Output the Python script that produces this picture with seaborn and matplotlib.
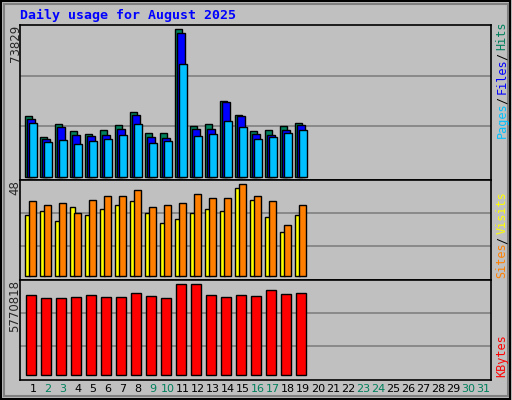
import matplotlib
matplotlib.use("Agg")
import matplotlib.pyplot as plt
import seaborn as sns
import numpy as np

sns.set_style("white")
plt.rcParams['font.family'] = ['DejaVu Sans Mono', 'DejaVu Sans']

days = list(range(1, 20))
hits = [30300,20000,26300,22800,21300,23300,25800,32300,21800,21800,73829,25300,26300,37800,30800,22800,23300,25300,26800]
files = [28800,18800,24800,20800,20300,20800,23800,30800,19800,19300,71800,23800,23800,37300,30300,21300,20800,23300,25800]
pages = [26800,17300,18300,16300,17800,18800,20800,26300,16800,17800,56300,20300,21300,27800,24800,18800,19800,21800,23300]
visits = [32,34,29,36,32,35,37,39,33,28,30,33,35,34,46,40,31,23,32]
sites = [39,37,38,33,40,42,42,45,36,37,38,43,41,41,48,42,39,27,37]
kbytes = [5073000,4883000,4883000,4946000,5073000,4946000,4946000,5200000,5010000,4883000,5770818,5770818,5073000,4946000,5073000,5010000,5390000,5137000,5200000]
all_days = list(range(1, 32))
weekend = [2,3,9,10,16,17,23,24,30,31]

W, H = 512, 400
fig = plt.figure(figsize=(W/100, H/100), dpi=100, facecolor='#C0C0C0')

def px_axes(x0, y0, x1, y1):
    ax = fig.add_axes([x0/W, 1 - y1/H, (x1-x0)/W, (y1-y0)/H])
    ax.set_facecolor('#C0C0C0')
    ax.set_xlim((20-18)/15, (491-18)/15)
    ax.set_xticks([]); ax.set_yticks([])
    for s in ax.spines.values():
        s.set_color('black'); s.set_linewidth(1.2)
    return ax

d = np.array(days, dtype=float)
ek = dict(edgecolor='black', linewidth=1, align='edge')

ax1 = px_axes(20, 25, 491, 180)
ax1.set_ylim(-1500, 76000)
for g in (25500, 50500):
    ax1.axhline(g, color='#808080', lw=1.2, zorder=0)
ax1.bar(d-0.51, hits, 0.47, color='#00805C', **ek)
ax1.bar(d-0.38, files, 0.53, color='#0000FF', **ek)
ax1.bar(d-0.25, pages, 0.49, color='#00C0FF', **ek)

ax2 = px_axes(20, 180, 491, 280)
ax2.set_ylim(-1.9, 50.2)
for g in (15.8, 32.9):
    ax2.axhline(g, color='#808080', lw=1.2, zorder=0)
ax2.bar(d-0.51, visits, 0.33, color='#FFFF00', **ek)
ax2.bar(d-0.25, sites, 0.47, color='#FF8000', **ek)

ax3 = px_axes(20, 280, 491, 380)
ax3.set_ylim(-4.7*63416, 95.3*63416)
for g in (1.84e6, 3.93e6):
    ax3.axhline(g, color='#808080', lw=1.2, zorder=0)
ax3.bar(d-0.45, kbytes, 0.66, color='#FF0000', **ek)

for n in all_days:
    fig.text((18+15*n)/W, 1-389/H, str(n), ha='center', va='center', fontsize=8,
             color='#00805C' if n in weekend else 'black', family=['DejaVu Sans'])

fig.text(20/W, 1-15/H, 'Daily usage for August 2025', color='#0000FF', fontsize=9.5,
         fontweight='bold', ha='left', va='center')

for txt, y in (('73829', 25), ('48', 180), ('5770818', 280)):
    fig.text(15/W, 1-y/H, txt, rotation=90, ha='center', va='top', fontsize=8.5, family=['DejaVu Sans'])

def vlabel(parts, ybottom):
    y = ybottom
    for t, c in parts:
        fig.text(502/W, 1-y/H, t, rotation=90, ha='center', va='bottom', fontsize=8.5, color=c)
        y -= len(t)*6.3 + 3

vlabel([('Pages', '#00C0FF'), ('/', 'black'), ('Files', '#0000FF'), ('/', 'black'), ('Hits', '#00805C')], 138)
vlabel([('Sites', '#FF8000'), ('/', 'black'), ('Visits', '#FFFF00')], 278)
vlabel([('KBytes', '#FF0000')], 377)

from matplotlib.patches import Rectangle
fig.patches.append(Rectangle((1/W, 1/H), 509/W, 398/H, transform=fig.transFigure,
                             fill=False, edgecolor='black', lw=1.5))
fig.patches.append(Rectangle((4/W, 4/H), 504/W, 392/H, transform=fig.transFigure,
                             fill=False, edgecolor='#808080', lw=1.5))

fig.savefig('out.png', dpi=100, facecolor='#C0C0C0')
